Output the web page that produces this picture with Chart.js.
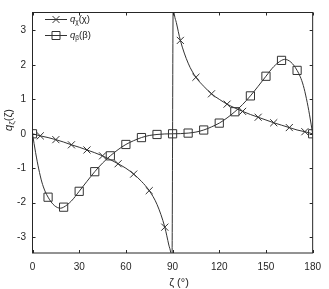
<!DOCTYPE html>
<html><head><meta charset="utf-8">
<script src="https://cdn.jsdelivr.net/npm/chart.js@4"></script>
<style>html,body{margin:0;padding:0;background:#fff}#w{width:329px;height:289px;position:relative}</style>
</head><body><div id="w"><canvas id="c"></canvas></div>
<script>
// q_chi(chi) curve samples (zeta in degrees)
const zetaChi = [0,5,10,15,20,25,30,35,40,45,50,55,60,65,70,75,80,85,87.6,88.8,89.6,
                 90.4,91.2,92.4,95,100,105,110,115,120,125,130,135,140,145,150,155,160,165,170,175,180];
const qChi = [0,-0.06,-0.11,-0.17,-0.24,-0.32,-0.39,-0.47,-0.55,-0.64,-0.75,-0.87,-1.0,-1.17,-1.38,-1.65,-2.05,-2.71,-3.23,-3.45,-3.8,
              3.8,3.45,3.23,2.71,2.05,1.64,1.38,1.16,1.0,0.86,0.75,0.65,0.56,0.48,0.40,0.32,0.25,0.18,0.11,0.06,0];
const chiMarkerZeta = [5,15,25,35,45,55,65,75,85,95,105,115,125,135,145,155,165,175];

// q_beta(beta) curve samples
const zetaBeta = [0,2,4,6,8,10,12,14,16,18,20,25,30,35,40,45,50,55,60,65,70,75,80,85,90,
                  95,100,105,110,115,120,125,130,135,140,145,150,155,160,162,164,166,168,170,172,174,176,178,180];
const qBeta = [0,-0.55,-1.02,-1.4,-1.66,-1.84,-1.98,-2.08,-2.14,-2.16,-2.13,-1.95,-1.67,-1.38,-1.10,-0.85,-0.64,-0.46,-0.31,-0.20,-0.11,-0.05,-0.02,-0.005,0,
               0.005,0.02,0.05,0.11,0.20,0.31,0.46,0.64,0.85,1.10,1.38,1.67,1.95,2.13,2.16,2.14,2.08,1.98,1.84,1.66,1.4,1.02,0.55,0];
const betaMarkerZeta = [0,10,20,30,40,50,60,70,80,90,100,110,120,130,140,150,160,170,180];

const xTicks = [0,30,60,90,120,150,180];
const yTicks = [-3,-2,-1,0,1,2,3];

const LINE = '#333333', AXIS = '#262626', FONT = '"Liberation Sans", Arial, sans-serif';

const pts = (xs, ys) => xs.map((x, i) => ({x, y: ys[i]}));
const pick = (xs, ys, sel) => sel.map(z => ({x: z, y: ys[xs.indexOf(z)]}));

function richText(ctx, parts, x, y) {
  let cx = x;
  for (const p of parts) {
    ctx.font = p.font;
    ctx.fillText(p.t, cx, y + (p.dy || 0));
    cx += ctx.measureText(p.t).width;
  }
  return cx - x;
}
function richWidth(ctx, parts) {
  let w = 0;
  for (const p of parts) { ctx.font = p.font; w += ctx.measureText(p.t).width; }
  return w;
}

const decor = {
  id: 'decor',
  afterDraw(chart) {
    const {ctx, chartArea: a, scales: {x, y}} = chart;
    ctx.save();
    ctx.strokeStyle = AXIS; ctx.lineWidth = 1;
    ctx.strokeRect(a.left, a.top, a.right - a.left, a.bottom - a.top);
    ctx.beginPath();
    const tl = 3;
    for (const v of xTicks) {
      const px = Math.round(x.getPixelForValue(v)) + 0.5;
      ctx.moveTo(px, a.bottom); ctx.lineTo(px, a.bottom - tl);
      ctx.moveTo(px, a.top); ctx.lineTo(px, a.top + tl);
    }
    for (const v of yTicks) {
      const py = Math.round(y.getPixelForValue(v)) + 0.5;
      ctx.moveTo(a.left, py); ctx.lineTo(a.left + tl, py);
      ctx.moveTo(a.right, py); ctx.lineTo(a.right - tl, py);
    }
    ctx.stroke();

    // legend
    ctx.fillStyle = '#222'; ctx.textBaseline = 'middle'; ctx.textAlign = 'left';
    const rows = [
      {y: 19.5, m: 'x', sub: 'χ', arg: 'χ'},
      {y: 35.5, m: 's', sub: 'β', arg: 'β'}
    ];
    for (const r of rows) {
      ctx.strokeStyle = LINE; ctx.lineWidth = 1;
      ctx.beginPath(); ctx.moveTo(45, r.y); ctx.lineTo(67, r.y); ctx.stroke();
      ctx.beginPath();
      if (r.m === 'x') {
        ctx.moveTo(52.5, r.y - 3.5); ctx.lineTo(59.5, r.y + 3.5);
        ctx.moveTo(59.5, r.y - 3.5); ctx.lineTo(52.5, r.y + 3.5);
      } else {
        ctx.rect(52, r.y - 4, 8, 8);
      }
      ctx.stroke();
      richText(ctx, [
        {t: 'q', font: 'italic 9.5px ' + FONT},
        {t: r.sub, font: '6.5px ' + FONT, dy: 2.5},
        {t: '(' + r.arg + ')', font: '9.5px ' + FONT}
      ], 70, r.y);
    }

    // x title
    const xp = [{t: 'ζ (°)', font: '11px ' + FONT}];
    const xw = richWidth(ctx, xp);
    richText(ctx, xp, 179 - xw / 2, 282.5);

    // y title (rotated)
    const yp = [
      {t: 'q', font: 'italic 11px ' + FONT},
      {t: 'ζ', font: '8px ' + FONT, dy: 3},
      {t: '(ζ)', font: '11px ' + FONT}
    ];
    const yw = richWidth(ctx, yp);
    ctx.translate(8.5, 120);
    ctx.rotate(-Math.PI / 2);
    richText(ctx, yp, -yw / 2, 0);
    ctx.restore();
  }
};

new Chart(document.getElementById('c'), {
  type: 'scatter',
  data: {
    datasets: [
      {data: pts(zetaChi, qChi), showLine: true, pointRadius: 0, borderColor: LINE, borderWidth: 1, cubicInterpolationMode: 'monotone'},
      {data: pick(zetaChi, qChi, chiMarkerZeta), showLine: false, pointStyle: 'crossRot', pointRadius: 5, borderColor: LINE, borderWidth: 1, backgroundColor: 'rgba(0,0,0,0)'},
      {data: pts(zetaBeta, qBeta), showLine: true, pointRadius: 0, borderColor: LINE, borderWidth: 1, cubicInterpolationMode: 'monotone'},
      {data: pick(zetaBeta, qBeta, betaMarkerZeta), showLine: false, pointStyle: 'rect', pointRadius: 5.8, borderColor: LINE, borderWidth: 1, backgroundColor: 'rgba(0,0,0,0)'}
    ]
  },
  options: {
    responsive: true, maintainAspectRatio: false, animation: false, devicePixelRatio: 1,
    layout: {padding: {top: 1, right: 8.5, left: 0, bottom: 0}},
    plugins: {legend: {display: false}, tooltip: {enabled: false}},
    scales: {
      x: {
        type: 'linear', min: 0, max: 180,
        afterBuildTicks: s => { s.ticks = xTicks.map(v => ({value: v})); },
        afterFit: s => { s.height = 36; },
        grid: {display: false, drawTicks: false},
        border: {display: false},
        ticks: {padding: 8, color: AXIS, font: {family: FONT, size: 10}, maxRotation: 0}
      },
      y: {
        type: 'linear', min: -3.46, max: 3.52,
        afterBuildTicks: s => { s.ticks = yTicks.map(v => ({value: v})); },
        afterFit: s => { s.width = 32.5; },
        grid: {display: false, drawTicks: false},
        border: {display: false},
        ticks: {padding: 6.5, color: AXIS, font: {family: FONT, size: 10}}
      }
    }
  },
  plugins: [decor]
});
</script>
</body></html>
